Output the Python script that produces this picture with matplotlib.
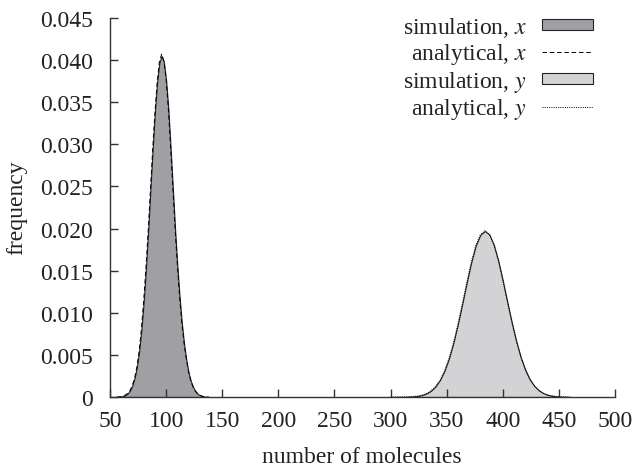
import numpy as np
import matplotlib
matplotlib.use("Agg")
import matplotlib.pyplot as plt

plt.rcParams['font.family'] = ['Liberation Serif', 'DejaVu Serif']
plt.rcParams['mathtext.fontset'] = 'stix'

# histogram grid and values
n_x = list(range(56, 140, 2))
sim_x = [0, 0.00002, 0.00006, 0.00013, 0.00024, 0.00045, 0.0008, 0.0014, 0.0023, 0.0036,
         0.0055, 0.0080, 0.0113, 0.0152, 0.0197, 0.0246, 0.0294, 0.0338, 0.0374, 0.0397,
         0.0405, 0.0398, 0.0376, 0.0342, 0.0296, 0.0248, 0.0199, 0.0156, 0.0119, 0.0088,
         0.0063, 0.0044, 0.0029, 0.0019, 0.0012, 0.0007, 0.0004, 0.00022, 0.00011, 0.00005,
         0.00002, 0]
ana_x = [0, 0.00002, 0.00006, 0.00014, 0.00026, 0.00047, 0.0008, 0.0014, 0.0023, 0.0036,
         0.0055, 0.0081, 0.0114, 0.0153, 0.0197, 0.0245, 0.0293, 0.0337, 0.0373, 0.0398,
         0.0407, 0.0399, 0.0377, 0.0342, 0.0297, 0.0248, 0.0200, 0.0157, 0.0119, 0.0088,
         0.0064, 0.0045, 0.0030, 0.0019, 0.0012, 0.0007, 0.0004, 0.00022, 0.00011, 0.00005,
         0.00002, 0]

n_y = list(range(300, 464, 4))
sim_y = [0, 0, 0.00001, 0.00001, 0.00003, 0.00006, 0.00011, 0.00022, 0.00041, 0.00073,
         0.00124, 0.00200, 0.00309, 0.00455, 0.00642, 0.00865, 0.01111, 0.01365, 0.01604, 0.01799,
         0.01925, 0.01970, 0.01930, 0.01808, 0.01618, 0.01384, 0.01132, 0.00888, 0.00664, 0.00474,
         0.00325, 0.00212, 0.00133, 0.00080, 0.00046, 0.00025, 0.00013, 0.00007, 0.00003, 0.00001,
         0]
ana_y = [0, 0, 0.00001, 0.00001, 0.00003, 0.00006, 0.00012, 0.00023, 0.00042, 0.00074,
         0.00125, 0.00201, 0.00310, 0.00456, 0.00643, 0.00866, 0.01112, 0.01366, 0.01606, 0.01802,
         0.01928, 0.01974, 0.01932, 0.01809, 0.01619, 0.01385, 0.01133, 0.00889, 0.00665, 0.00475,
         0.00326, 0.00213, 0.00134, 0.00081, 0.00046, 0.00025, 0.00013, 0.00007, 0.00003, 0.00001,
         0]

x_ticks = [50, 100, 150, 200, 250, 300, 350, 400, 450, 500]
y_ticks = [0, 0.005, 0.010, 0.015, 0.020, 0.025, 0.030, 0.035, 0.040, 0.045]
y_labels = ['0', '0.005', '0.010', '0.015', '0.020', '0.025', '0.030', '0.035', '0.040', '0.045']

fig = plt.figure(figsize=(6.35, 4.77), dpi=100)
ax = fig.add_axes([110/635, 1 - 398/477, 505/635, 379/477])

ax.fill_between(n_x, sim_x, color='#a0a0a4', edgecolor='#222222', linewidth=0.8,
                label='simulation, $x$')
ax.plot(n_x, ana_x, color='black', linestyle=(0, (4.6, 2.9)), linewidth=0.7,
        label='analytical, $x$')
ax.fill_between(n_y, sim_y, color='#d3d3d5', edgecolor='#222222', linewidth=0.8,
                label='simulation, $y$')
ax.plot(n_y, ana_y, color='black', linestyle=(0, (1, 1.3)), linewidth=0.7,
        label='analytical, $y$')

ax.set_xlim(50, 500)
ax.set_ylim(0, 0.045)
ax.set_xticks(x_ticks)
ax.set_yticks(y_ticks)
ax.set_yticklabels(y_labels)

for s in ['top', 'right']:
    ax.spines[s].set_visible(False)
for s in ['left', 'bottom']:
    ax.spines[s].set_color('#333333')
    ax.spines[s].set_linewidth(1.0)

ax.tick_params(direction='in', length=6, width=1.0, color='#333333',
               labelsize=17, colors='#222222')
ax.tick_params(axis='x', pad=9.5)
ax.tick_params(axis='y', pad=12)

fig.text(362/635, 1 - 463/477, 'number of molecules', ha='center', va='baseline',
         fontsize=17, color='#222222')
fig.text(17/635, 1 - 208/477, 'frequency', ha='center', va='center', rotation=90,
         fontsize=17, color='#222222')

leg = ax.legend(loc='upper right', bbox_to_anchor=(593/635, 1 - 16/477),
                bbox_transform=fig.transFigure, frameon=False, markerfirst=False,
                fontsize=17, handlelength=2.16, handletextpad=0.64,
                handleheight=0.34, labelspacing=0.1, borderpad=0, borderaxespad=0)
for t in leg.get_texts():
    t.set_color('#222222')

fig.savefig('out.png', dpi=100)
